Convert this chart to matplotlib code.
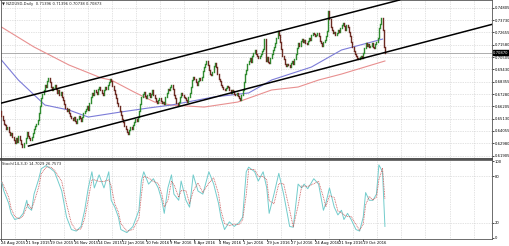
import numpy as np
import pandas as pd
import matplotlib
matplotlib.use("Agg")
import matplotlib.pyplot as plt

# NZDUSD daily closes in pips (x 0.0001), 24 Aug 2015 .. 11 Nov 2016, one value per bar
closes = [
    6540, 6500, 6470, 6455, 6420, 6440, 6395, 6370, 6385,
    6350, 6330, 6300, 6340, 6310, 6360, 6325, 6290, 6270, 6262, 6300, 6340, 6395, 6360,
    6345, 6330, 6350, 6390, 6420, 6450,
    6470, 6500, 6560, 6620, 6690,
    6730, 6760, 6810, 6790, 6840, 6870, 6835,
    6790, 6760, 6785, 6810, 6770, 6740, 6760, 6720, 6745, 6700, 6680, 6640,
    6610, 6580, 6600, 6560, 6540, 6520,
    6500, 6530, 6490, 6475, 6510, 6540, 6520, 6495, 6530, 6560, 6580,
    6600, 6620, 6590, 6650, 6700, 6740,
    6720, 6760, 6745, 6730, 6770,
    6790, 6760, 6740, 6720, 6760, 6790, 6770, 6810, 6830,
    6860, 6845, 6800,
    6760, 6730, 6690, 6650, 6620, 6580, 6545, 6510,
    6480, 6450, 6420, 6400, 6375, 6410, 6440, 6420,
    6460, 6480, 6510, 6490, 6530, 6580,
    6640, 6700, 6730, 6745,
    6710, 6690, 6720, 6740, 6700, 6730, 6760, 6720, 6690, 6670, 6650, 6680,
    6690, 6670, 6650, 6660, 6640, 6700, 6740, 6770, 6760, 6790, 6810,
    6770, 6720, 6690, 6650, 6630,
    6660, 6700, 6740, 6720, 6700, 6690, 6680, 6660, 6700,
    6740, 6790, 6850, 6880, 6860, 6830, 6810, 6840, 6870, 6850, 6880, 6930, 6960, 6990, 7020,
    6980, 6940, 6900, 6890, 6920,
    6970, 7000, 6960, 6900, 6860,
    6840, 6810, 6790, 6770, 6760, 6780, 6800, 6790, 6760, 6740, 6760, 6750, 6730, 6720, 6740, 6710, 6690, 6680,
    6720, 6760, 6830, 6900, 6940, 6990, 7020, 7040, 7010, 7060, 7090, 7110,
    7080, 7060, 7040, 7060, 7080, 7100, 7120,
    7210, 7020, 7050, 7010, 7000, 7040, 7080, 7110, 7140, 7170, 7220, 7280, 7240,
    7180, 7120, 7060, 7030, 6990, 6970, 6990,
    6980, 6960, 7000, 7020, 6990, 7030,
    7080, 7130, 7170, 7150, 7190, 7210, 7180, 7200,
    7170, 7160, 7190, 7220, 7200, 7240, 7260, 7250, 7230, 7240, 7260, 7230, 7190, 7170, 7150, 7180, 7200, 7230, 7280,
    7450,
    7380, 7310, 7290, 7260, 7270, 7240, 7260, 7290, 7270, 7300, 7330,
    7350, 7320, 7290, 7330, 7310, 7270, 7230, 7180,
    7140, 7100, 7080, 7060, 7040, 7030,
    7050, 7060, 7040, 7090, 7130,
    7170, 7150, 7160, 7140, 7150, 7170,
    7140, 7130, 7160, 7180, 7220,
    7300, 7340, 7390, 7290,
    7140, 7087,
]
first_open = 6580

# moving averages (bar index, price)
ma_red_bar = [0, 27, 56, 83, 91, 110, 127, 141, 168, 196, 224, 246, 263, 282, 318]
ma_red_val = [0.7312, 0.7138, 0.6981, 0.6867, 0.6850, 0.6745, 0.6658, 0.6632, 0.6614,
              0.6658, 0.6763, 0.6789, 0.6850, 0.6902, 0.7016]
ma_blue_bar = [0, 14, 36, 56, 72, 99, 122, 141, 176, 205, 224, 257, 282, 316]
ma_blue_val = [0.7024, 0.6850, 0.6632, 0.6588, 0.6527, 0.6571, 0.6606, 0.6632, 0.6702,
               0.6737, 0.6850, 0.6963, 0.7112, 0.7207]

# channel lines (bar, price)
upper_line = [(0, 0.6649), (282, 0.7417)]
lower_line = [(22.4, 0.6274), (407, 0.7336)]

# stochastic %K samples
stoch_bar = [0, 2, 6, 8, 11, 15, 18, 21, 22, 25, 27, 31, 33, 37, 41, 44, 50, 54, 58, 62,
             66, 69, 72, 75, 77, 81, 85, 89, 91, 94, 97, 99, 104, 109, 114, 116, 118, 122, 126, 130,
             133, 135, 138, 141, 143, 147, 149, 153, 156, 159, 163, 167, 172, 176, 180, 182, 185, 189, 193, 197,
             200, 203, 205, 210, 213, 217, 220, 222, 226, 230, 234, 239, 242, 246, 249, 251, 254, 259, 263, 267,
             269, 272, 276, 279, 282, 284, 287, 290, 294, 297, 300, 302, 305, 308, 311, 313, 316, 318]
stoch_k = [74, 61, 45, 32, 24, 26, 32, 49, 40, 36, 57, 77, 90, 94, 90, 86, 61, 27, 11, 9,
           15, 36, 65, 86, 65, 82, 65, 86, 49, 40, 27, 11, 7, 15, 36, 74, 86, 70, 77, 65,
           49, 32, 65, 82, 57, 49, 74, 49, 40, 82, 61, 57, 86, 70, 45, 27, 11, 21, 15, 20,
           27, 86, 92, 86, 74, 86, 65, 32, 57, 84, 57, 15, 14, 70, 65, 70, 64, 77, 70, 36,
           45, 65, 40, 30, 36, 24, 32, 24, 11, 9, 27, 59, 49, 49, 57, 95, 86, 15]

date_labels = ["24 Aug 2015", "21 Sep 2015", "19 Oct 2015", "16 Nov 2015", "14 Dec 2015",
               "12 Jan 2016", "10 Feb 2016", "9 Mar 2016", "6 Apr 2016", "4 May 2016",
               "1 Jun 2016", "29 Jun 2016", "27 Jul 2016", "24 Aug 2016", "21 Sep 2016",
               "19 Oct 2016"]
date_bars = list(range(0, 320, 20))

price_ticks = ["0.61905", "0.62980", "0.64055", "0.65130", "0.66205", "0.67280", "0.68355",
               "0.69430", "0.70505", "0.71580", "0.72655", "0.73730", "0.74805"]
last_bar = "NZDUSD,Daily  0.71396 0.71396 0.70738 0.70873"
stoch_title = "Stoch(14,3,3) 14.7029 26.7573"

# ---------------------------------------------------------------
c = np.array(closes) / 10000.0
o = np.concatenate([[first_open / 10000.0], c[:-1]])
x = np.arange(len(c))
up = c >= o

fig = plt.figure(figsize=(5.10, 2.46), dpi=100)
W, H = 510.0, 246.0
ax = fig.add_axes([0.5 / W, 1 - 159 / H, 491.5 / W, 159 / H])
ax2 = fig.add_axes([0.5 / W, 1 - 239 / H, 491.5 / W, 79 / H], sharex=ax)

xmin, xmax = -0.8, 406.8
grid_x = np.arange(11.6, xmax, 20)
grid_kw = dict(color="#c8c8c8", lw=0.5, ls=(0, (1, 1.5)), zorder=0)
fs = 2.7

# price panel
ax.set_xlim(xmin, xmax)
ax.set_ylim(0.6161, 0.7548)
tick_vals = [float(t) for t in price_ticks]
for t in tick_vals:
    ax.axhline(t, **grid_kw)
for g in grid_x:
    ax.axvline(g, **grid_kw)

ax.axhline(c[-1], color="#a0a0a0", lw=0.6, zorder=1)

ax.plot(ma_red_bar, ma_red_val, color="#e89090", lw=0.8, zorder=2)
ax.plot(ma_blue_bar, ma_blue_val, color="#7c7cd8", lw=0.8, zorder=2)

lo = np.minimum(o, c)
hi = np.maximum(o, c)
ax.vlines(x[up], lo[up], hi[up], colors="#2f8a2f", lw=1.0, capstyle="projecting", zorder=3)
ax.vlines(x[~up], lo[~up], hi[~up], colors="#6b2a22", lw=1.0, capstyle="projecting", zorder=3)

ax.axline(upper_line[0], upper_line[1], color="black", lw=1.1, zorder=4)
(lx0, ly0), (lx1, ly1) = lower_line
ax.plot([lx0, lx1], [ly0, ly1], color="black", lw=1.1, zorder=4)

ax.yaxis.tick_right()
ax.set_yticks(tick_vals)
ax.set_yticklabels(price_ticks)
ax.tick_params(axis="y", labelsize=fs, length=1.2, pad=0.8, width=0.5)
ax.tick_params(axis="x", bottom=False, labelbottom=False)
for s in ax.spines.values():
    s.set_color("#555555")
    s.set_linewidth(0.6)
ax.spines["bottom"].set_linewidth(1.2)
ax.spines["bottom"].set_color("#333333")

ax.text(1.002, c[-1], "%.5f" % c[-1], transform=ax.get_yaxis_transform(),
        fontsize=fs, color="white", va="center", ha="left",
        bbox=dict(boxstyle="square,pad=0.12", fc="black", ec="black"))
ax.text(0.004, 0.988, "\u25bc " + last_bar, transform=ax.transAxes, fontsize=fs,
        va="top", ha="left", color="#222222")

# stochastic panel
ax2.set_ylim(-1.3, 101.3)
for lvl in (20, 80):
    ax2.axhline(lvl, **grid_kw)
for g in grid_x:
    ax2.axvline(g, **grid_kw)
k = pd.Series(stoch_k, dtype=float)
d = k.rolling(2, min_periods=1).mean()
ax2.plot(stoch_bar, k, color="#72cccc", lw=0.7, zorder=3)
ax2.plot(stoch_bar, d, color="#c85050", lw=0.6, ls=(0, (1, 1)), zorder=3)

ax2.yaxis.tick_right()
ax2.set_yticks([0, 20, 80, 100])
ax2.set_yticklabels(["0", "20", "80", "100"])
ax2.tick_params(axis="y", labelsize=fs, length=1.2, pad=0.8, width=0.5)
ax2.set_xticks(date_bars)
ax2.set_xticklabels(date_labels, ha="left")
ax2.tick_params(axis="x", labelsize=fs, length=1.2, pad=0.5, width=0.5)
for s in ax2.spines.values():
    s.set_color("#555555")
    s.set_linewidth(0.6)
ax2.text(0.004, 0.975, stoch_title, transform=ax2.transAxes, fontsize=fs,
         va="top", ha="left", color="#222222")

fig.savefig("out.png", dpi=100)
